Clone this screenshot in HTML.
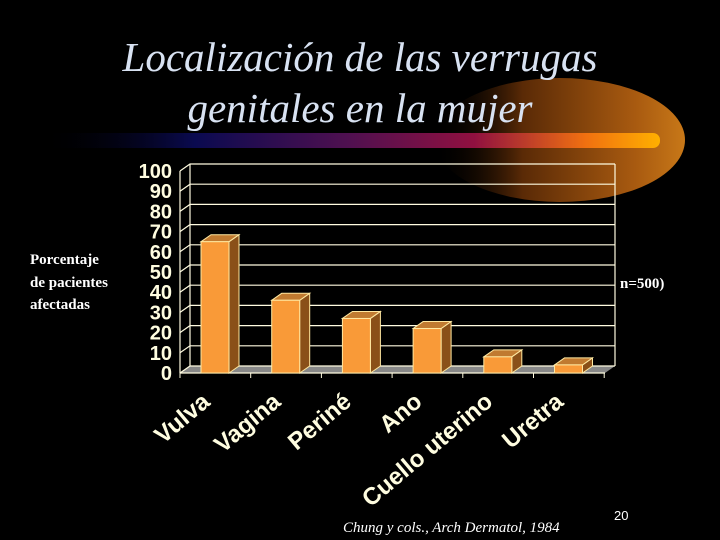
<!DOCTYPE html>
<html><head><meta charset="utf-8"><style>
html,body{margin:0;padding:0;background:#000;}
svg{display:block;}
</style></head><body>
<svg width="720" height="540" viewBox="0 0 720 540" xmlns="http://www.w3.org/2000/svg">
<defs>
<linearGradient id="bar" x1="0" x2="1" y1="0" y2="0">
<stop offset="0" stop-color="#000" stop-opacity="0"/>
<stop offset="0.25" stop-color="#0a0a50"/>
<stop offset="0.5" stop-color="#501050"/>
<stop offset="0.7" stop-color="#901040"/>
<stop offset="0.88" stop-color="#f07010"/>
<stop offset="1" stop-color="#ffb000"/>
</linearGradient>
<linearGradient id="glow" x1="0" x2="1" y1="0" y2="0">
<stop offset="0" stop-color="#000" stop-opacity="0"/>
<stop offset="0.35" stop-color="#5a2a06"/>
<stop offset="0.8" stop-color="#a85a10"/>
<stop offset="1" stop-color="#c87818"/>
</linearGradient>
</defs>
<rect width="720" height="540" fill="#000"/>
<ellipse cx="560" cy="140" rx="125" ry="62" fill="url(#glow)"/>
<rect x="40" y="133" width="620" height="15" rx="7" fill="url(#bar)"/>
<g font-family="Liberation Serif, serif" font-style="italic" font-size="41" fill="#d8e2f2" text-anchor="middle">
<text x="360" y="71">Localización de las verrugas</text>
<text x="360" y="122">genitales en la mujer</text>
</g>
<g id="chart"></g>
<g font-family="Liberation Serif, serif" font-weight="bold" font-size="15" fill="#fff">
<text x="30" y="264">Porcentaje</text>
<text x="30" y="287">de pacientes</text>
<text x="30" y="309">afectadas</text>
</g>
<text x="620" y="288" font-family="Liberation Serif, serif" font-weight="bold" font-size="15" fill="#fff">n=500)</text>
<text x="343" y="532" font-family="Liberation Serif, serif" font-style="italic" font-size="15" fill="#fff">Chung y cols., Arch Dermatol, 1984</text>
<text x="614" y="520" font-family="Liberation Sans, sans-serif" font-size="13" fill="#fff">20</text>
</svg>
<script>
const categories=["Vulva","Vagina","Periné","Ano","Cuello uterino","Uretra"];
const values=[65,36,27,22,8,4];
const yTicks=[0,10,20,30,40,50,60,70,80,90,100];
const NS="http://www.w3.org/2000/svg";
const g=document.getElementById('chart');
const x0=180,y0=373,dx=10,dy=-7,slot=70.7,plotW=425,scale=2.02;
function y(v){return y0-v*scale;}
function mk(t,a,parent){const e=document.createElementNS(NS,t);for(const k in a)e.setAttribute(k,a[k]);(parent||g).appendChild(e);return e;}
let floor=mk('polygon',{points:`${x0},${y0} ${x0+plotW},${y0} ${x0+plotW+dx},${y0+dy} ${x0+dx},${y0+dy}`,fill:'#888'});


yTicks.forEach(v=>{
 const yy=y(v);
 const l=mk('polyline',{points:`${x0},${yy} ${x0+dx},${yy+dy} ${x0+plotW+dx},${yy+dy}`,fill:'none',stroke:'#fffbe0','stroke-width':1.2});
 
 
 const t=mk('text',{x:x0-8,y:yy+7,'text-anchor':'end','font-family':'Liberation Sans, sans-serif','font-weight':'bold','font-size':20,fill:'#fffde0'});
 t.textContent=v;
 
 
});
const wall=mk('line',{x1:x0+dx,y1:y(0)+dy,x2:x0+dx,y2:y(100)+dy,stroke:'#fffbe0','stroke-width':1.2});


const wallR=mk('line',{x1:x0+plotW+dx,y1:y(0)+dy,x2:x0+plotW+dx,y2:y(100)+dy,stroke:'#fffbe0','stroke-width':1.2});


const ya=mk('line',{x1:x0,y1:y0,x2:x0,y2:y(100),stroke:'#fffbe0','stroke-width':1.2});


const xa=mk('line',{x1:x0,y1:y0,x2:x0+plotW,y2:y0,stroke:'#fffbe0','stroke-width':1.2});


for(let i=0;i<=categories.length;i++){
 const tk=mk('line',{x1:x0+i*slot,y1:y0,x2:x0+i*slot,y2:y0+5,stroke:'#fffbe0'});
 
 
}
const bw=28;
values.forEach((v,i)=>{
 const bx=x0+i*slot+21, top=y(v);
 const grp=mk('g',{});
 
 
 mk('polygon',{points:`${bx+bw},${y0} ${bx+bw+dx},${y0+dy} ${bx+bw+dx},${top+dy} ${bx+bw},${top}`,fill:'#8a5018',stroke:'#ffe8a0','stroke-width':1},grp);
 mk('polygon',{points:`${bx},${top} ${bx+dx},${top+dy} ${bx+bw+dx},${top+dy} ${bx+bw},${top}`,fill:'#c07a30',stroke:'#ffe8a0','stroke-width':1},grp);
 mk('rect',{x:bx,y:top,width:bw,height:y0-top,fill:'#f99a38',stroke:'#ffe8a0','stroke-width':1},grp);
 const cx=x0+i*slot+slot/2-4, cy=y0+31;
 const t=mk('text',{x:cx,y:cy,'text-anchor':'end',transform:`rotate(-40 ${cx} ${cy})`,'font-family':'Liberation Sans, sans-serif','font-weight':'bold','font-size':24,fill:'#fffde0'});
 t.textContent=categories[i];
 
 
});
</script>
</body></html>
